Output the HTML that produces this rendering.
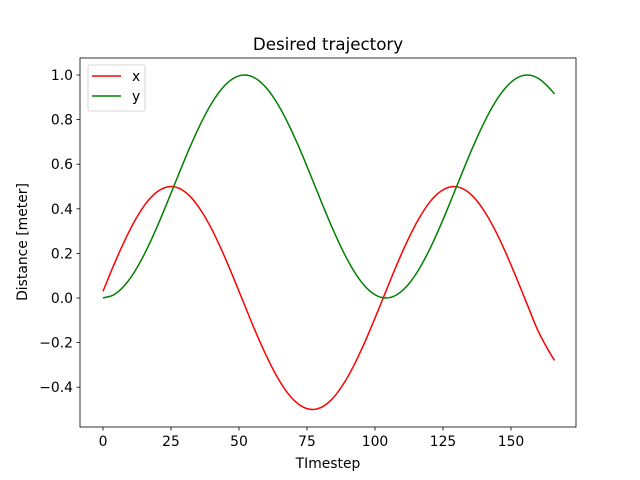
<!DOCTYPE html>
<html><head><meta charset="utf-8"><style>body{margin:0;background:#fff}svg{display:block;font-family:"DejaVu Sans","Liberation Sans",sans-serif}</style></head>
<body>
<svg id="c" width="640" height="480"></svg>
<script>
const timesteps=[0,4,8,12,16,20,24,28,32,36,40,44,48,52,56,60,64,68,72,76,80,84,88,92,96,100,104,108,112,116,120,124,128,132,136,140,144,148,152,156,160,164,166];
const xValues=[0.030,0.149,0.258,0.353,0.428,0.477,0.499,0.492,0.456,0.393,0.308,0.205,0.090,-0.030,-0.149,-0.258,-0.353,-0.428,-0.477,-0.499,-0.492,-0.456,-0.393,-0.308,-0.205,-0.090,0.030,0.149,0.258,0.353,0.428,0.477,0.499,0.492,0.456,0.393,0.308,0.205,0.090,-0.030,-0.149,-0.240,-0.280];
const yValues=[0,0.0146,0.0572,0.1257,0.2160,0.3227,0.4397,0.5603,0.6773,0.7840,0.8743,0.9427,0.9854,1,0.9854,0.9427,0.8743,0.7840,0.6773,0.5603,0.4397,0.3227,0.2160,0.1257,0.0572,0.0146,0,0.0146,0.0572,0.1257,0.2160,0.3227,0.4397,0.5603,0.6773,0.7840,0.8743,0.9427,0.9854,1,0.9854,0.9427,0.915];
const xTicks=[0,25,50,75,100,125,150];
const yTicks=[-0.4,-0.2,0.0,0.2,0.4,0.6,0.8,1.0];
const yTickLabels=["−0.4","−0.2","0.0","0.2","0.4","0.6","0.8","1.0"];
const NS="http://www.w3.org/2000/svg",svg=document.getElementById('c');
const L=80,R=576,T=58,B=427;
const sx=v=>103+v*408/150, sy=v=>298-v*223;
function mk(tag,attrs,parent){const e=document.createElementNS(NS,tag);for(const k in attrs)e.setAttribute(k,attrs[k]);(parent||svg).appendChild(e);return e;}
function txt(s,attrs){const e=mk('text',attrs);e.textContent=s;return e;}
function path(vals,color,name){const P=timesteps.map((t,i)=>[sx(t),sy(vals[i])]);
let d='M'+P[0][0]+','+P[0][1];
for(let i=0;i<P.length-1;i++){const p0=P[Math.max(i-1,0)],p1=P[i],p2=P[i+1],p3=P[Math.min(i+2,P.length-1)];
const h=p2[0]-p1[0];const s1=(p2[1]-p0[1])/(p2[0]-p0[0]||1),s2=(p3[1]-p1[1])/(p3[0]-p1[0]||1);
d+=' C'+(p1[0]+h/3)+','+(p1[1]+s1*h/3)+' '+(p2[0]-h/3)+','+(p2[1]-s2*h/3)+' '+p2[0]+','+p2[1];}
const e=mk('path',{d:d,fill:'none',stroke:color,'stroke-width':1.5});

}
path(xValues,'#ff0000','series-x');
path(yValues,'#008000','series-y');
const fr=mk('rect',{x:L,y:T,width:R-L,height:B-T,fill:'none',stroke:'#000','stroke-width':0.8});


xTicks.forEach(v=>{const x=sx(v);mk('line',{x1:x,x2:x,y1:B,y2:B+3.5,stroke:'#000','stroke-width':0.8});
const t=txt(String(v),{x:x,y:B+19,'font-size':13.9,'text-anchor':'middle'});

});
yTicks.forEach((v,i)=>{const y=sy(v);mk('line',{x1:L-3.5,x2:L,y1:y,y2:y,stroke:'#000','stroke-width':0.8});
const t=txt(yTickLabels[i],{x:L-7,y:y+5,'font-size':13.9,'text-anchor':'end'});

});
const ti=txt('Desired trajectory',{x:328,y:50,'font-size':16.7,'text-anchor':'middle'});


const xl=txt('TImestep',{x:328,y:468,'font-size':13.9,'text-anchor':'middle'});


const yl=txt('Distance [meter]',{x:0,y:0,'font-size':13.9,'text-anchor':'middle',transform:'translate(27,242) rotate(-90)'});


const lg=mk('g',{});


mk('rect',{x:88,y:65,width:57,height:46,rx:2,fill:'#fff',stroke:'#ccc','stroke-width':0.8},lg);
mk('line',{x1:92,x2:121,y1:76,y2:76,stroke:'#ff0000','stroke-width':1.5},lg);
mk('line',{x1:92,x2:121,y1:96,y2:96,stroke:'#008000','stroke-width':1.5},lg);
const l1=mk('text',{x:132,y:81,'font-size':13.9},lg);l1.textContent='x';


const l2=mk('text',{x:132,y:101,'font-size':13.9},lg);l2.textContent='y';


</script>
</body></html>
